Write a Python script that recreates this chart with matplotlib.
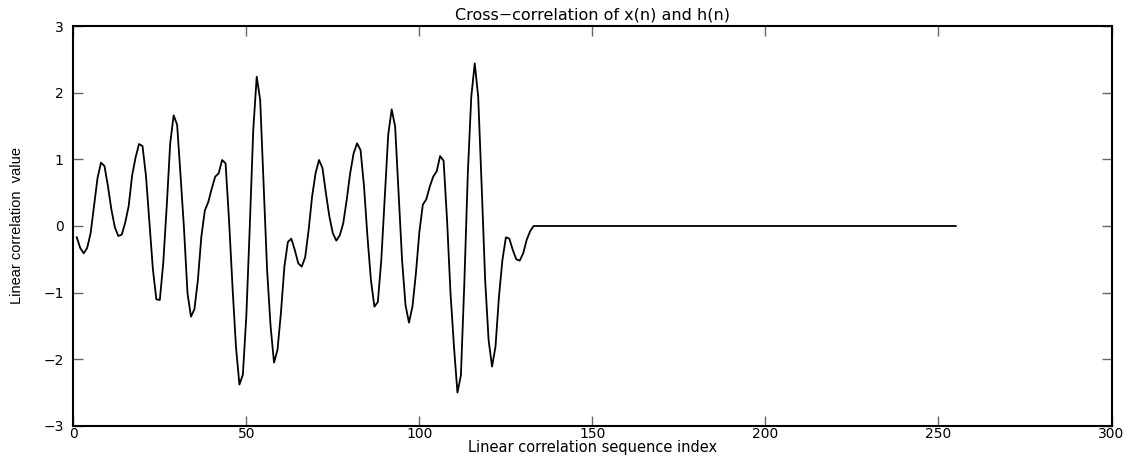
import numpy as np
import matplotlib.pyplot as plt

plt.rcParams['font.family'] = ['DejaVu Sans']

# cross-correlation values, index 1..133, zero afterwards
rxh_head = [-0.17, -0.33, -0.41, -0.33, -0.11, 0.30, 0.72, 0.95, 0.90, 0.60,
            0.25, -0.02, -0.15, -0.13, 0.05, 0.30, 0.76, 1.03, 1.23, 1.20,
            0.75, 0.05, -0.65, -1.10, -1.11, -0.55, 0.30, 1.24, 1.66, 1.52,
            0.75, -0.05, -1.01, -1.36, -1.25, -0.81, -0.16, 0.23, 0.36, 0.56,
            0.74, 0.79, 0.99, 0.94, 0.09, -0.91, -1.81, -2.38, -2.23, -1.35,
            0.00, 1.44, 2.24, 1.89, 0.60, -0.66, -1.50, -2.05, -1.86, -1.30,
            -0.61, -0.24, -0.19, -0.36, -0.56, -0.61, -0.47, -0.06, 0.44, 0.79,
            0.99, 0.87, 0.49, 0.14, -0.11, -0.22, -0.14, 0.04, 0.39, 0.79,
            1.09, 1.24, 1.14, 0.60, -0.16, -0.81, -1.21, -1.14, -0.51, 0.44,
            1.37, 1.75, 1.49, 0.49, -0.51, -1.19, -1.45, -1.21, -0.71, -0.09,
            0.32, 0.40, 0.59, 0.74, 0.82, 1.05, 0.98, 0.09, -1.01, -1.81,
            -2.50, -2.24, -0.85, 0.79, 1.94, 2.44, 1.94, 0.60, -0.80, -1.71,
            -2.11, -1.81, -1.06, -0.51, -0.17, -0.19, -0.36, -0.50, -0.52, -0.41,
            -0.21, -0.08, 0.00]
N = 255
rxh = np.zeros(N)
rxh[:len(rxh_head)] = rxh_head
n = np.arange(1, N + 1)

xticks = [0, 50, 100, 150, 200, 250, 300]
yticks = [-3, -2, -1, 0, 1, 2, 3]

fig = plt.figure(figsize=(11.4, 4.57), dpi=100)
ax = fig.add_axes([0.0643, 0.068, 0.9107, 0.875])

ax.plot(n, rxh, color='black', linewidth=1.3)

ax.set_xlim(0, 300)
ax.set_ylim(-3, 3)
ax.set_xticks(xticks)
ax.set_yticks(yticks)
ax.tick_params(direction='in', length=7, width=1, color='#666666',
               top=True, right=True, labelsize=10)
ax.tick_params(axis='x', pad=1)
ax.tick_params(axis='y', pad=7)
for s in ax.spines.values():
    s.set_linewidth(1.5)

ax.set_title('Cross\u2212correlation of x(n) and h(n)', fontsize=11.5, pad=5)
ax.set_xlabel('Linear correlation sequence index', fontsize=10.5, va='top')
ax.xaxis.set_label_coords(0.5, -0.0355)
ax.set_ylabel('Linear correlation  value', fontsize=10.5,
              family=['Liberation Sans Narrow', 'Liberation Sans'])
ax.yaxis.set_label_coords(-0.0475, 0.5)

fig.savefig('out.png', dpi=100)
